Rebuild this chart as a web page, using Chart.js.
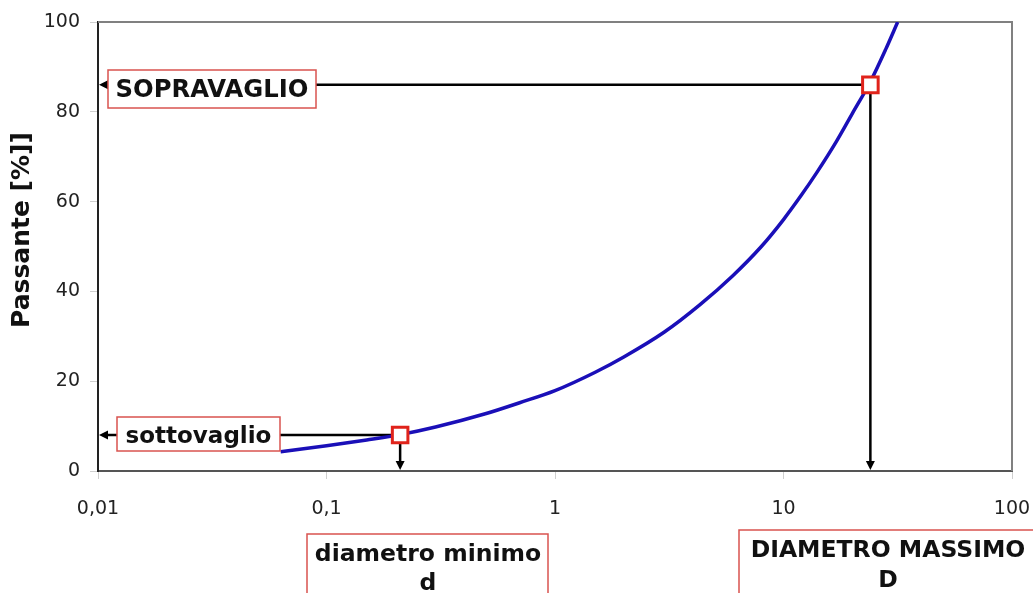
<!DOCTYPE html>
<html>
<head>
<meta charset="utf-8">
<script src="https://cdn.jsdelivr.net/npm/chart.js@4/dist/chart.umd.min.js"></script>
<style>
  html, body { margin: 0; padding: 0; background: #fff; }
  #wrap { width: 1033px; height: 593px; position: relative; }
</style>
</head>
<body>
<div id="wrap"><canvas id="c"></canvas></div>
<script>
// Grading curve: particle size [mm] against passing fraction [%]
const sizes   = [0.063, 0.1, 0.15, 0.21, 0.3, 0.5, 0.7, 1, 1.5, 2, 3, 4.3, 6, 8, 10, 12, 14, 17, 20, 24, 28, 31.6];
const passing = [4.3, 5.6, 6.9, 8.1, 9.8, 12.8, 15.2, 17.9, 22, 25.4, 30.9, 37, 43.5, 50, 56, 61.5, 66.5, 73.3, 79.6, 86.7, 93.9, 100];

// Characteristic points: minimum diameter d and maximum diameter D
const markSizes   = [0.21, 24];
const markPassing = [8, 86];

// Axis ticks
const xTickValues = [0.01, 0.1, 1, 10, 100];
const xTickLabels = ['0,01', '0,1', '1', '10', '100'];
const yTickValues = [0, 20, 40, 60, 80, 100];

const yTitle = 'Passante [%]]';

const FAMILY = '"DejaVu Sans", Verdana, sans-serif';

// Label boxes (pixel layout of the text boxes)
const boxes = [
  { lines: ['SOPRAVAGLIO'], x: 108, y: 70, w: 208, h: 38, cx: 212, base: [97], size: 24.3 },
  { lines: ['sottovaglio'], x: 117, y: 417, w: 163, h: 34, cx: 198.5, base: [443], size: 23 },
  { lines: ['diametro minimo', 'd'], x: 307, y: 534, w: 241, h: 80, cx: 428, base: [561, 590], size: 23.5 },
  { lines: ['DIAMETRO MASSIMO', 'D'], x: 739, y: 530, w: 310, h: 80, cx: 888, base: [557, 587], size: 23.5 }
];

function arrow(ctx, x1, y1, x2, y2) {
  const ang = Math.atan2(y2 - y1, x2 - x1);
  const L = 9, W = 4.5;
  ctx.beginPath();
  ctx.moveTo(x1, y1);
  ctx.lineTo(x2 - Math.cos(ang) * (L - 1), y2 - Math.sin(ang) * (L - 1));
  ctx.stroke();
  ctx.beginPath();
  ctx.moveTo(x2, y2);
  ctx.lineTo(x2 - L * Math.cos(ang) + W * Math.sin(ang), y2 - L * Math.sin(ang) - W * Math.cos(ang));
  ctx.lineTo(x2 - L * Math.cos(ang) - W * Math.sin(ang), y2 - L * Math.sin(ang) + W * Math.cos(ang));
  ctx.closePath();
  ctx.fill();
}

const guides = {
  id: 'guides',
  beforeDatasetsDraw(chart) {
    const { ctx, chartArea: a, scales: { x, y } } = chart;
    ctx.save();
    // top and right frame of the plot area
    ctx.strokeStyle = '#808080';
    ctx.lineWidth = 2;
    ctx.beginPath();
    ctx.moveTo(a.left, a.top);
    ctx.lineTo(a.right, a.top);
    ctx.lineTo(a.right, a.bottom);
    ctx.stroke();
    // reading lines from each characteristic point to both axes
    ctx.strokeStyle = '#000';
    ctx.fillStyle = '#000';
    ctx.lineWidth = 2.5;
    for (let i = 0; i < markSizes.length; i++) {
      const px = x.getPixelForValue(markSizes[i]);
      const py = y.getPixelForValue(markPassing[i]);
      arrow(ctx, px, py, a.left + 1, py);
      arrow(ctx, px, py, px, a.bottom - 1);
    }
    ctx.restore();
  },
  afterDatasetsDraw(chart) {
    const { ctx } = chart;
    ctx.save();
    boxes.forEach(b => {
      ctx.fillStyle = '#fff';
      ctx.fillRect(b.x, b.y, b.w, b.h);
      ctx.strokeStyle = '#d9534f';
      ctx.lineWidth = 1.5;
      ctx.strokeRect(b.x, b.y, b.w, b.h);
      ctx.fillStyle = '#111';
      ctx.font = 'bold ' + b.size + 'px ' + FAMILY;
      ctx.textAlign = 'center';
      ctx.textBaseline = 'alphabetic';
      b.lines.forEach((t, k) => ctx.fillText(t, b.cx, b.base[k]));
    });
    // vertical axis title
    ctx.translate(22, 230);
    ctx.rotate(-Math.PI / 2);
    ctx.font = 'bold 25px ' + FAMILY;
    ctx.fillStyle = '#111';
    ctx.textAlign = 'center';
    ctx.textBaseline = 'middle';
    ctx.fillText(yTitle, 0, 0);
    ctx.restore();
  }
};

new Chart(document.getElementById('c'), {
  type: 'line',
  data: {
    datasets: [
      {
        label: 'punti caratteristici',
        data: markSizes.map((v, i) => ({ x: v, y: markPassing[i] })),
        showLine: false,
        pointStyle: 'rect',
        pointRadius: 11,
        pointBorderWidth: 3,
        pointBorderColor: '#e0231b',
        pointBackgroundColor: '#ffffff',
        order: 0
      },
      {
        label: 'curva granulometrica',
        data: sizes.map((v, i) => ({ x: v, y: passing[i] })),
        borderColor: '#1a0fb8',
        borderWidth: 3.5,
        pointRadius: 0,
        cubicInterpolationMode: 'monotone',
        fill: false,
        order: 1
      }
    ]
  },
  options: {
    responsive: true,
    maintainAspectRatio: false,
    animation: false,
    layout: { padding: { top: 22, right: 21, left: 0, bottom: 0 } },
    plugins: { legend: { display: false }, tooltip: { enabled: false } },
    scales: {
      x: {
        type: 'logarithmic',
        min: 0.01,
        max: 100,
        afterBuildTicks: s => { s.ticks = xTickValues.map(v => ({ value: v, major: true })); },
        afterFit: s => { s.height = 122; s.paddingLeft = 0; s.paddingRight = 0; },
        ticks: {
          autoSkip: false,
          maxRotation: 0,
          padding: 19,
          color: '#222',
          font: { family: FAMILY, size: 19 },
          callback: (v, i) => xTickLabels[i]
        },
        grid: { drawOnChartArea: false, drawTicks: true, tickLength: 8, color: '#cfcfcf' },
        border: { color: '#555', width: 2 }
      },
      y: {
        type: 'linear',
        min: 0,
        max: 100,
        afterBuildTicks: s => { s.ticks = yTickValues.map(v => ({ value: v })); },
        afterFit: s => { s.width = 98; s.paddingTop = 0; s.paddingBottom = 0; },
        ticks: {
          padding: 10,
          color: '#222',
          font: { family: FAMILY, size: 19 }
        },
        grid: { drawOnChartArea: false, drawTicks: true, tickLength: 8, color: '#cfcfcf' },
        border: { color: '#222', width: 2 }
      }
    }
  },
  plugins: [guides]
});
</script>
</body>
</html>
